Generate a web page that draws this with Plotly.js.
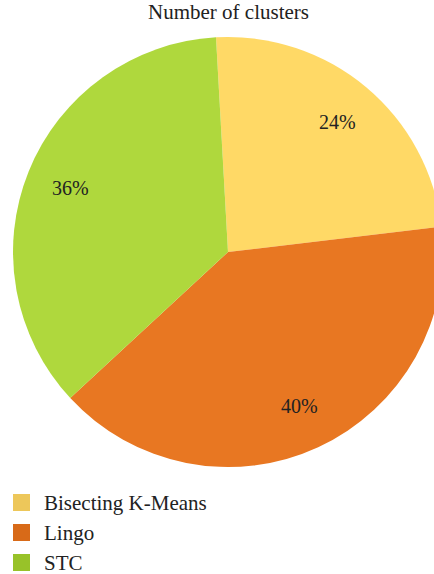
<!DOCTYPE html>
<html>
<head>
<meta charset="utf-8">
<script src="https://cdn.plot.ly/plotly-3.0.1.min.js"></script>
<style>
html,body{margin:0;padding:0;width:434px;height:574px;overflow:hidden;background:#fff;}
#chart{width:460px;height:574px;}
</style>
</head>
<body>
<div id="chart"></div>
<script>
// Data
var categories = ["Bisecting K-Means", "Lingo", "STC"];
var values = [24, 40, 36];
var chartTitle = "Number of clusters";

// Styles
var sliceColors = ["#FFD966", "#E87722", "#AFD83D"];
var legendColors = ["#EDC75A", "#D86A18", "#98C229"];
var W = 460, H = 574;
var FONT = "Liberation Serif";
var ROTATION = -3.2;
var LABEL_R = 0.79;

var cx = 228, cy = 252, R = 215;

var trace = {
  type: "pie",
  labels: categories,
  values: values,
  sort: false,
  direction: "clockwise",
  rotation: ROTATION,
  marker: {colors: sliceColors, line: {width: 0}},
  textinfo: "none",
  hoverinfo: "label+percent",
  showlegend: false,
  domain: {x: [(cx - R) / W, (cx + R) / W], y: [(H - (cy + R)) / H, (H - (cy - R)) / H]}
};

var shapes = [], annotations = [];
annotations.push({
  text: chartTitle, xref: "paper", yref: "paper",
  x: cx / W, y: 1 - 12.5 / H, xanchor: "center", yanchor: "middle",
  showarrow: false, font: {family: FONT, size: 21, color: "#222"}
});

// percentage labels along each slice's mid-angle (derived from the values)
var total = values.reduce(function (a, b) { return a + b; }, 0);
var cum = 0;
for (var k = 0; k < values.length; k++) {
  var midFrac = (cum + values[k] / 2) / total;
  cum += values[k];
  var ang = (ROTATION + midFrac * 360) * Math.PI / 180;
  var px = cx + LABEL_R * R * Math.sin(ang);
  var py = cy - LABEL_R * R * Math.cos(ang);
  annotations.push({
    text: Math.round(values[k] / total * 100) + "%",
    xref: "paper", yref: "paper", x: px / W, y: 1 - py / H,
    xanchor: "center", yanchor: "middle", showarrow: false,
    font: {family: FONT, size: 20, color: "#222"}
  });
}

for (var i = 0; i < categories.length; i++) {
  var yc = 502.5 + i * 30;
  shapes.push({
    type: "rect", xref: "paper", yref: "paper",
    x0: 13 / W, x1: 30 / W, y0: 1 - (yc + 8.5) / H, y1: 1 - (yc - 8.5) / H,
    fillcolor: legendColors[i], line: {width: 0}
  });
  annotations.push({
    text: categories[i], xref: "paper", yref: "paper",
    x: 42 / W, y: 1 - yc / H, xanchor: "left", yanchor: "middle",
    showarrow: false, font: {family: FONT, size: 21, color: "#222"}
  });
}

var layout = {
  width: W, height: H,
  margin: {l: 0, r: 0, t: 0, b: 0},
  paper_bgcolor: "#fff",
  showlegend: false,
  shapes: shapes,
  annotations: annotations
};

Plotly.newPlot("chart", [trace], layout, {displayModeBar: false, staticPlot: true});
</script>
</body>
</html>
